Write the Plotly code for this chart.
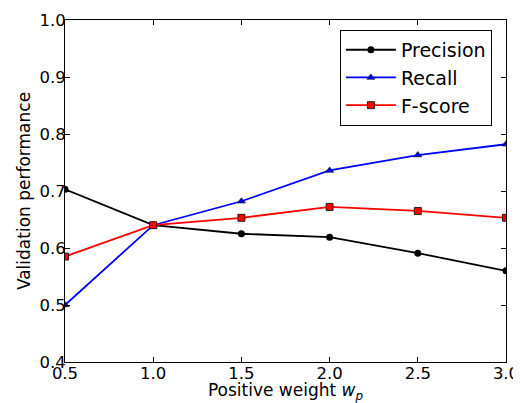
import plotly.graph_objects as go

weights = [0.5, 1.0, 1.5, 2.0, 2.5, 3.0]
precision = [0.703, 0.640, 0.625, 0.619, 0.591, 0.560]
recall = [0.500, 0.640, 0.682, 0.736, 0.763, 0.782]
fscore = [0.585, 0.640, 0.653, 0.672, 0.665, 0.653]

fig = go.Figure()
fig.add_trace(go.Scatter(x=weights, y=precision, name="Precision", mode="lines+markers",
                         line=dict(color="black", width=1.8),
                         marker=dict(symbol="circle", size=7, color="black")))
fig.add_trace(go.Scatter(x=weights, y=recall, name="Recall", mode="lines+markers",
                         line=dict(color="#0000ff", width=1.8),
                         marker=dict(symbol="triangle-up", size=7, color="#0000ff",
                                     line=dict(color="black", width=0.6))))
fig.add_trace(go.Scatter(x=weights, y=fscore, name="F-score", mode="lines+markers",
                         line=dict(color="#ff0000", width=1.8),
                         marker=dict(symbol="square", size=7, color="#ff0000",
                                     line=dict(color="black", width=0.8))))

font = "DejaVu Sans"
# page has an 8px body margin, so the figure is sized to the remaining area
fig.update_layout(
    width=513, height=395,
    margin=dict(l=57, r=15, t=12, b=41),
    paper_bgcolor="white", plot_bgcolor="white",
    font=dict(family=font, size=17, color="black"),
    legend=dict(x=0.968, y=0.971, xanchor="right", yanchor="top",
                bordercolor="black", borderwidth=1, bgcolor="white",
                font=dict(size=19), itemwidth=50, tracegroupgap=0),
    xaxis=dict(range=[0.5, 3.0], tickvals=weights, ticktext=["0.5", "1.0", "1.5", "2.0", "2.5", "3.0"],
               ticks="inside", ticklen=5, tickcolor="black", mirror="ticks", automargin=False,
               tickfont=dict(size=16.5), ticklabelstandoff=-4,
               showline=True, linecolor="black", linewidth=1, showgrid=False, zeroline=False,
               title=dict(text="Positive weight <i>w</i><sub><i>p</i></sub>", standoff=0, font=dict(size=17))),
    yaxis=dict(range=[0.4, 1.0], tickvals=[0.4, 0.5, 0.6, 0.7, 0.8, 0.9, 1.0],
               ticktext=["0.4", "0.5", "0.6", "0.7", "0.8", "0.9", "1.0"],
               ticks="inside", ticklen=5, tickcolor="black", mirror="ticks", automargin=False,
               tickfont=dict(size=16.5), ticklabelstandoff=-5,
               showline=True, linecolor="black", linewidth=1, showgrid=False, zeroline=False,
               title=dict(text="Validation performance", standoff=4, font=dict(size=17))),
)
fig.write_html("out.html")
